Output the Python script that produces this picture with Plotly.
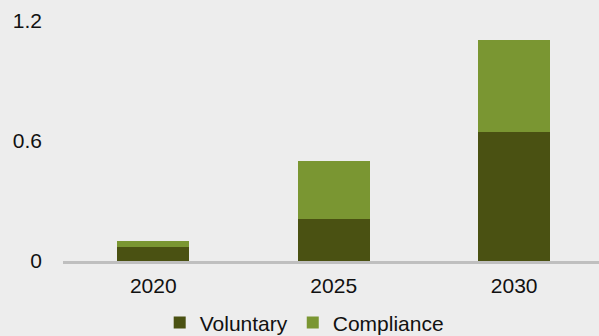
import plotly.graph_objects as go

years = ["2020", "2025", "2030"]
voluntary = [0.07, 0.21, 0.645]
compliance = [0.03, 0.29, 0.46]
y_ticks = [0, 0.6, 1.2]
y_tick_labels = ["0", "0.6", "1.2"]

DARK = "#4a5112"
LIGHT = "#7a9632"
BG = "#ededed"
FONT = "Liberation Sans, Arial, sans-serif"

fig = go.Figure()
fig.add_trace(go.Bar(x=years, y=voluntary, name="Voluntary", marker=dict(color=DARK, line=dict(width=0))))
fig.add_trace(go.Bar(x=years, y=compliance, name="Compliance", marker=dict(color=LIGHT, line=dict(width=0))))

fig.update_layout(
    width=599, height=336,
    barmode="stack", bargap=0.6,
    paper_bgcolor=BG, plot_bgcolor=BG,
    margin=dict(l=63, r=0, t=21, b=75, autoexpand=False),
    font=dict(family=FONT, size=21, color="#111111"),
    xaxis=dict(type="category", range=[-0.5, 2.47], showline=True, linecolor="#bfbfbf",
               linewidth=3, showgrid=False, ticks="", ticklabelstandoff=4),
    yaxis=dict(range=[0, 1.2], tickvals=y_ticks, ticktext=y_tick_labels, showgrid=False,
               zeroline=False, showline=False, ticks="", ticklabelstandoff=20),
    legend=dict(orientation="h", x=0.45, xanchor="center", y=-0.258, yanchor="middle",
                traceorder="normal", bgcolor="rgba(0,0,0,0)", font=dict(size=21), itemwidth=30),
    showlegend=True,
)
fig.write_html("out.html")
